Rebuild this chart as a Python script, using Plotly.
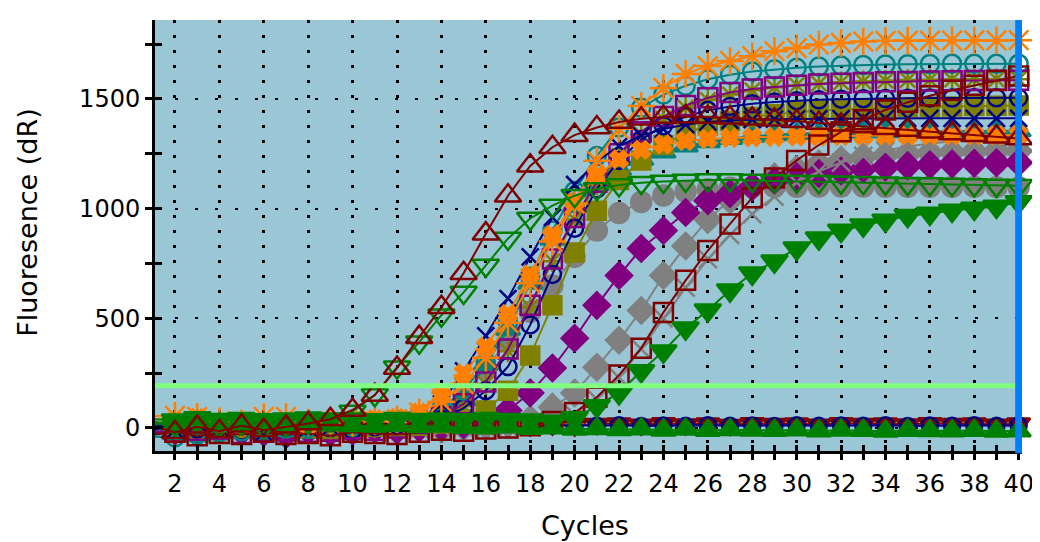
import plotly.graph_objects as go

# ---------------- data ----------------
cycles = list(range(1, 41))
x_tick_vals = list(range(2, 41, 2))
y_tick_vals = [0, 500, 1000, 1500]
threshold_value = 192
end_cycle = 40

# flat (no amplification) wells
darkred_flat = [-20, -30, -25, -15, -30, -20, -25, -10, -20, -15, -5, -10, 0, 5, 0, 10, 5, 12, 15, 10,
                18, 20, 15, 22, 16, 20, 14, 21, 18, 20, 15, 22, 18, 20, 16, 21, 18, 20, 15, 20]
navy_flat = [5, -10, 15, -5, 10, -15, 5, 0, 10, -5, 5, 10, 0, 5, 10, 5, 12, 8, 10, 12,
             10, 12, 9, 11, 10, 12, 10, 11, 9, 12, 10, 11, 10, 12, 9, 11, 10, 12, 10, 11]
green_flat = [20, 15, 25, 18, 12, 20, 16, 22, 14, 10, 8, 12, 5, 8, 2, 0, 4, -2, 0, -6,
              -4, -8, -5, -10, -6, -12, -8, -10, -12, -9, -14, -10, -12, -15, -11, -13, -14, -12, -15, -14]

# amplification curves
darkred_tri = [10, -20, 5, -15, 10, -10, 5, 20, 40, 82, 150, 273, 414, 550, 705, 886, 1059, 1195, 1280, 1335,
               1370, 1395, 1410, 1418, 1420, 1418, 1414, 1410, 1405, 1398, 1390, 1382, 1374, 1366, 1358, 1350, 1342, 1335, 1328, 1320]
green_tri_open = [30, 15, 25, 10, 20, 5, 15, 25, 40, 75, 150, 277, 391, 514, 618, 741, 864, 955, 1014, 1059,
                  1090, 1108, 1118, 1124, 1128, 1130, 1130, 1128, 1126, 1124, 1122, 1120, 1118, 1116, 1114, 1112, 1110, 1108, 1106, 1104]
orange_ast = [55, 55, 50, 30, 20, 50, 50, 25, 20, 25, 30, 40, 70, 120, 200, 320, 480, 660, 850, 1023,
              1218, 1364, 1468, 1550, 1614, 1650, 1673, 1695, 1718, 1732, 1748, 1755, 1762, 1765, 1766, 1766, 1767, 1767, 1767, 1768]
teal_circ = [-40, -42, -30, -20, -15, -10, -5, 0, 5, 10, 15, 25, 45, 90, 170, 300, 480, 690, 900, 1080,
             1240, 1370, 1460, 1520, 1560, 1590, 1610, 1625, 1635, 1642, 1648, 1652, 1655, 1657, 1658, 1659, 1660, 1660, 1660, 1660]
purple_sq = [-15, -20, -10, -5, -25, -15, -10, -20, -15, -5, -10, 0, 20, 50, 110, 210, 360, 560, 770, 960,
             1120, 1250, 1350, 1420, 1470, 1505, 1530, 1545, 1555, 1562, 1568, 1572, 1575, 1578, 1580, 1582, 1583, 1584, 1585, 1585]
olive_sq = [10, 0, -5, 5, 0, -10, 5, 0, -5, 10, 5, 0, 10, 20, 40, 80, 170, 330, 560, 800,
            990, 1130, 1220, 1290, 1345, 1378, 1400, 1418, 1430, 1440, 1447, 1452, 1456, 1459, 1462, 1464, 1466, 1468, 1469, 1470]
olive_ast = [0, 10, -10, 5, 15, -5, 0, 10, -10, 5, 0, 10, 20, 45, 100, 200, 350, 550, 760, 950,
             1110, 1240, 1340, 1410, 1460, 1495, 1520, 1540, 1553, 1563, 1570, 1576, 1580, 1583, 1586, 1588, 1589, 1590, 1590, 1590]
navy_circ = [-10, 15, -5, 5, -15, 10, -5, 5, 0, -10, 5, 15, 20, 40, 90, 170, 280, 470, 700, 910,
             1090, 1220, 1315, 1378, 1420, 1448, 1466, 1478, 1486, 1492, 1496, 1499, 1501, 1502, 1503, 1504, 1504, 1505, 1505, 1505]
navy_x = [20, -10, 25, 0, 15, -20, 10, 0, 5, 15, 20, 25, 40, 110, 260, 420, 590, 780, 960, 1110,
          1215, 1285, 1333, 1363, 1383, 1395, 1402, 1406, 1408, 1409, 1410, 1410, 1411, 1411, 1411, 1412, 1412, 1412, 1412, 1412]
teal_tri = [-30, -25, -35, -20, -15, -25, -10, -20, -5, -10, 0, 10, 20, 50, 130, 290, 450, 660, 860, 1010,
            1110, 1180, 1225, 1258, 1285, 1305, 1320, 1330, 1337, 1342, 1345, 1348, 1350, 1351, 1352, 1353, 1354, 1355, 1355, 1355]
orange_x = [40, 35, 45, 20, 10, 30, 25, 15, 30, 35, 40, 45, 70, 150, 250, 370, 520, 700, 880, 1030,
            1150, 1225, 1268, 1293, 1308, 1317, 1322, 1325, 1327, 1329, 1330, 1331, 1332, 1333, 1333, 1334, 1334, 1335, 1335, 1335]
purple_dia = [-20, -10, -25, -5, -15, -20, -30, -10, -20, -15, -5, -10, 0, 5, 15, 35, 80, 160, 273, 409,
              559, 695, 818, 900, 982, 1036, 1068, 1100, 1125, 1145, 1160, 1172, 1182, 1190, 1196, 1200, 1204, 1207, 1209, 1210]
gray_early = [5, -15, 10, -20, 0, -10, 15, -5, 10, -15, 0, 10, 25, 60, 150, 270, 400, 530, 650, 780,
              900, 980, 1030, 1060, 1078, 1088, 1095, 1098, 1100, 1100, 1101, 1101, 1101, 1100, 1100, 1100, 1099, 1099, 1098, 1098]
gray_mid = [-10, 5, -20, 10, -5, -15, 0, 10, -10, 5, -5, 0, 10, -5, 5, 10, 20, 40, 95, 159,
            277, 400, 536, 695, 830, 950, 1040, 1100, 1145, 1180, 1205, 1222, 1235, 1243, 1250, 1255, 1258, 1260, 1262, 1263]
darkred_sq = [-30, -20, -35, -25, -30, -20, -30, -25, -35, -20, -25, -30, -20, -10, -15, -5, 0, 10, 30, 70,
              140, 241, 364, 527, 673, 809, 930, 1050, 1140, 1220, 1290, 1350, 1405, 1450, 1485, 1515, 1540, 1562, 1584, 1605]
gray_x = [-5, 10, -15, 5, -10, 0, 10, -5, 5, -10, 0, 5, -5, 0, 5, 0, 5, 10, 25, 60,
          130, 230, 360, 500, 640, 770, 880, 975, 1055, 1120, 1170, 1210, 1240, 1265, 1283, 1297, 1308, 1316, 1322, 1326]
green_tri_late = [40, 35, 45, 38, 42, 36, 40, 44, 38, 40, 36, 42, 38, 40, 36, 42, 38, 35, 30, 45,
                  100, 160, 260, 350, 455, 537, 628, 705, 760, 819, 865, 900, 924, 946, 968, 978, 992, 1001, 1010, 1030]

# ---------------- styles ----------------
DR, GN, OR, TE, PU, OL, NV, GY = '#800000', '#008000', '#FF8000', '#008080', '#800080', '#808000', '#000080', '#808080'

traces = [
    (darkred_flat, DR, 'triangle-down', 20),
    (navy_flat, NV, 'circle-open', 16),
    (gray_early, GY, 'circle', 20),
    (gray_mid, GY, 'diamond', 20),
    (purple_dia, PU, 'diamond', 20),
    (gray_x, GY, 'x-thin-open', 18),
    (teal_tri, TE, 'triangle-up', 21),
    (olive_sq, OL, 'square', 18),
    (olive_ast, OL, 'asterisk-open', 18),
    (navy_circ, NV, 'circle-open', 17),
    (teal_circ, TE, 'circle-open', 18),
    (purple_sq, PU, 'square-open', 19),
    (navy_x, NV, 'x-thin-open', 17),
    (orange_x, OR, 'x', 15),
    (orange_ast, OR, 'asterisk-open', 23),
    (darkred_sq, DR, 'square-open', 19),
    (green_tri_late, GN, 'triangle-down', 23),
    (green_flat, GN, 'triangle-up', 21),
    (green_tri_open, GN, 'triangle-down-open', 23),
    (darkred_tri, DR, 'triangle-up-open', 23),
]

fig = go.Figure()
for vals, col, sym, size in traces:
    fig.add_trace(go.Scatter(
        x=cycles, y=vals, mode='lines+markers',
        line=dict(color=col, width=2),
        marker=dict(symbol=sym, size=size, color=col, line=dict(color=col, width=2.5)),
        cliponaxis=False, showlegend=False, hoverinfo='skip'))

# dummy trace to activate overlay axes (inside half of the crossing ticks)
fig.add_trace(go.Scatter(x=[None], y=[None], xaxis='x2', yaxis='y2',
                         showlegend=False, hoverinfo='skip'))

x_range = [1.1, 40.15]
y_range = [-105, 1860]
FONT = 'DejaVu Sans'

# The page body has an 8px margin, so the figure is 8px smaller in each direction
fig.update_layout(
    width=1032, height=534,
    margin=dict(l=147, r=18, t=12, b=91, autoexpand=False),
    paper_bgcolor='white', plot_bgcolor='#9AC6D6',
    showlegend=False,
    font=dict(family=FONT, size=24, color='black'),
    xaxis=dict(range=x_range, tickmode='array', tickvals=x_tick_vals, automargin=False,
               ticks='outside', ticklen=6, tickwidth=3, tickcolor='black',
               showline=True, linecolor='black', linewidth=3,
               showgrid=True, gridcolor='black', gridwidth=3, griddash='3px,12px',
               zeroline=False, ticklabelstandoff=3,
               tickfont=dict(family=FONT, size=24, color='black'),
               minor=dict(tickvals=cycles, ticks='outside', ticklen=6, tickwidth=3,
                          tickcolor='black', showgrid=False)),
    yaxis=dict(range=y_range, tickmode='array', tickvals=y_tick_vals, automargin=False,
               ticks='outside', ticklen=7, tickwidth=3, tickcolor='black',
               showline=True, linecolor='black', linewidth=3,
               showgrid=True, gridcolor='black', gridwidth=2, griddash='3px,17px',
               zeroline=False, ticklabelstandoff=0,
               tickfont=dict(family=FONT, size=24, color='black'),
               minor=dict(dtick=250, tick0=0, ticks='outside', ticklen=7, tickwidth=3,
                          tickcolor='black', showgrid=False)),
    xaxis2=dict(range=x_range, overlaying='x', anchor='y', side='bottom', automargin=False,
                tickmode='array', tickvals=x_tick_vals, showticklabels=False,
                ticks='inside', ticklen=6, tickwidth=3, tickcolor='black',
                showline=False, showgrid=False, zeroline=False,
                minor=dict(tickvals=cycles, ticks='inside', ticklen=6, tickwidth=3,
                           tickcolor='black', showgrid=False)),
    yaxis2=dict(range=y_range, overlaying='y', anchor='x', side='left', automargin=False,
                tickmode='array', tickvals=y_tick_vals, showticklabels=False,
                ticks='inside', ticklen=7, tickwidth=3, tickcolor='black',
                showline=False, showgrid=False, zeroline=False,
                minor=dict(dtick=250, tick0=0, ticks='inside', ticklen=7, tickwidth=3,
                           tickcolor='black', showgrid=False)),
    annotations=[
        dict(text='Cycles', xref='paper', yref='paper', x=0.496, y=-0.174,
             xanchor='center', yanchor='middle', showarrow=False,
             font=dict(family=FONT, size=27, color='black')),
        dict(text='Fluoresence (dR)', xref='paper', yref='paper', x=-0.148, y=0.531,
             xanchor='center', yanchor='middle', textangle=-90, showarrow=False,
             font=dict(family=FONT, size=27, color='black')),
    ],
    shapes=[
        dict(type='line', xref='paper', x0=0, x1=1, yref='y',
             y0=threshold_value, y1=threshold_value,
             line=dict(color='#80FF80', width=5), layer='above'),
        dict(type='line', xref='x', x0=end_cycle, x1=end_cycle, yref='paper', y0=-0.005, y1=1,
             line=dict(color='#0080FF', width=7), layer='above'),
        dict(type='rect', xref='paper', yref='paper', x0=-0.17, x1=1.021,
             y0=1.030, y1=1.039, fillcolor='#EEEEEE', line=dict(width=0), layer='below'),
    ],
)

fig.write_html('out.html', config={'displayModeBar': False})
